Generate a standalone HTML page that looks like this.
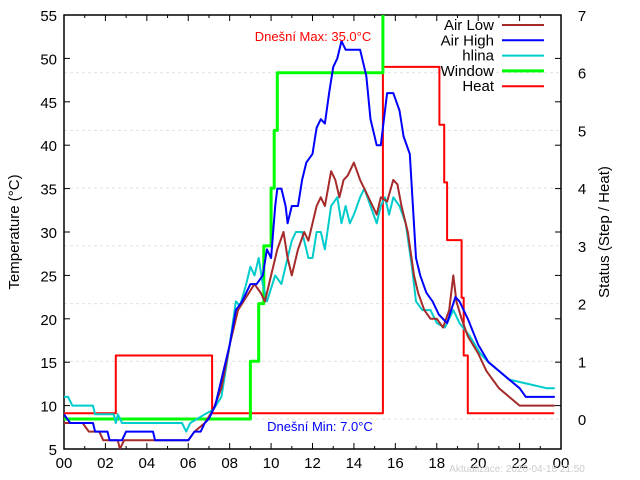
<!DOCTYPE html>
<html><head><meta charset="utf-8"><style>
body{margin:0;background:#fff;}
svg{display:block;font-family:"Liberation Sans",sans-serif;}
</style></head><body>
<svg id="chart" width="640" height="480" viewBox="0 0 640 480" xmlns="http://www.w3.org/2000/svg"></svg>
<script>
const hoursTicks=["00","02","04","06","08","10","12","14","16","18","20","22","00"];
const tempTicks=[5,10,15,20,25,30,35,40,45,50,55];
const statusTicks=[0,1,2,3,4,5,6,7];
const airLowH=[0,0.9,1.2,1.7,1.9,2.6,2.7,2.9,6.0,6.3,6.8,7.2,7.6,8.0,8.4,8.8,9.2,9.5,9.7,10.0,10.3,10.6,10.8,11.0,11.3,11.6,11.8,12.0,12.2,12.4,12.6,12.9,13.1,13.3,13.5,13.7,14.0,14.3,14.5,14.9,15.1,15.3,15.6,15.9,16.1,16.3,16.6,16.9,17.1,17.4,17.7,18.0,18.3,18.6,18.8,18.95,19.2,19.5,20.0,20.4,21.0,21.5,22.0,22.4,23.7];
const airLowT=[8,8,7,7,6,6,5,6,6,7,8,9.5,12,17,21,22.5,24,23,22,25,28,30,27,25,28,30,29,31,33,34,33,37,36,34,36,36.5,38,36,35,33,32,34,33.5,36,35.5,33,30,25,23,21,20,20,19,21,25,22,20,18,16,14,12,11,10,10,10];
const airHighH=[0,0.3,1.4,1.5,2.1,2.2,2.8,3.0,4.3,4.4,6.0,6.3,6.6,6.8,7.0,7.3,7.6,8.0,8.3,8.6,9.0,9.3,9.6,9.8,10.0,10.2,10.3,10.5,10.7,10.8,11.0,11.3,11.5,11.7,12.0,12.2,12.4,12.6,12.8,13.0,13.2,13.4,13.6,13.8,14.3,14.6,14.8,15.1,15.3,15.6,15.9,16.2,16.4,16.7,17.0,17.2,17.5,17.8,18.1,18.5,18.7,18.9,19.1,19.5,20.0,20.5,21.0,21.5,22.0,22.3,23.7];
const airHighT=[9,8,8,7,7,6,6,7,7,6,6,7,7,8,8.5,10,13,17,21,22,24,24,25,28,27,33,35,35,33,31,33,33,36,38,39,42,43,42.5,46,49,50,52,51,51,51,48,43,40,40,46,46,44,41,39,27,25,23,22,20.5,19.5,21,22.5,22,20,17,15,14,13,12,11,11];
const soilH=[0,0.2,0.4,1.4,1.5,2.4,2.5,2.6,2.8,5.7,5.9,6.1,6.8,7.2,7.6,8.0,8.3,8.5,8.8,9.0,9.2,9.4,9.6,9.8,10.2,10.5,10.8,11.0,11.2,11.5,11.8,12.0,12.2,12.4,12.6,12.9,13.2,13.4,13.6,13.8,14.0,14.3,14.5,14.8,15.1,15.3,15.5,15.7,15.9,16.2,16.5,16.8,17.0,17.3,17.7,18.0,18.4,18.8,19.1,19.6,20.1,20.5,21.0,21.5,22.4,23.3,23.7];
const soilT=[11,11,10,10,9,9,8,9,8,8,7,8,9,9.5,11,17,22,21.5,24,26,25,27,24,22,25,24,27,29,30,30,27,27,30,30,28,33,34,31,33,31,32,34,35,33,31,33,34,32,34,33,31,26,22,21,21,19.5,19,21,19.5,18,16,15,14,13,12.5,12,12];
const windowH=[0,9.0,9.4,9.65,10.0,10.15,10.3,15.4,15.4];
const windowS=[0,1,2,3,4,5,6,6,8];
const heatH=[0,2.5,7.15,15.4,18.13,18.36,18.5,19.2,19.3,19.5,23.67];
const heatS=[0.1,1.1,0.1,6.1,5.1,4.1,3.1,2.1,1.1,0.1,0.1];

const NS="http://www.w3.org/2000/svg";
const svg=document.getElementById('chart');
const L=64,R=561,T=15,B=449;
const xS=h=>L+(R-L)*h/24;
const yT=t=>B-(B-T)*(t-5)/50;
const yS=s=>419-(419-15)*s/7;
function el(tag,attrs,parent){const e=document.createElementNS(NS,tag);for(const k in attrs)e.setAttribute(k,attrs[k]);(parent||svg).appendChild(e);return e;}
function txt(s,attrs){const e=el('text',attrs);e.textContent=s;return e;}
const defs=el('defs',{});const cp=el('clipPath',{id:'clip'},defs);el('rect',{x:L,y:T,width:R-L,height:B-T},cp);
statusTicks.forEach(s=>{if(s<7){const g=el('line',{x1:L,x2:R,y1:yS(s),y2:yS(s),stroke:'#e0e0e0','stroke-width':1,'stroke-dasharray':'3,3'});

}});
const box=el('rect',{x:L,y:T,width:R-L,height:B-T,fill:'none',stroke:'#000','stroke-width':1.5});


for(let h=0;h<=24;h++){const len=h%2?3:6;el('line',{x1:xS(h),x2:xS(h),y1:B,y2:B-len,stroke:'#000'});el('line',{x1:xS(h),x2:xS(h),y1:T,y2:T+len,stroke:'#000'});}
hoursTicks.forEach((s,i)=>{const t=txt(s,{x:xS(i*2),y:B+19,'text-anchor':'middle','font-size':15,fill:'#000'});

});
tempTicks.forEach(v=>{el('line',{x1:L,x2:L+6,y1:yT(v),y2:yT(v),stroke:'#000'});el('line',{x1:R,x2:R-6,y1:yT(v),y2:yT(v),stroke:'#000'});
const t=txt(String(v),{x:L-7,y:yT(v)+6,'text-anchor':'end','font-size':15,fill:'#000'});

});
statusTicks.forEach(v=>{const t=txt(String(v),{x:582,y:yS(v)+6,'text-anchor':'middle','font-size':15,fill:'#000'});

});
let t1=txt('Temperature (°C)',{transform:'translate(19,232) rotate(-90)','text-anchor':'middle','font-size':15});


let t2=txt('Status (Step / Heat)',{transform:'translate(609,232) rotate(-90)','text-anchor':'middle','font-size':15});


function linePts(H,V,ys){return H.map((h,i)=>xS(h).toFixed(1)+','+ys(V[i]).toFixed(1)).join(' ');}
function stepPts(H,V,ys){let p=[];for(let i=0;i<H.length;i++){if(i>0)p.push(xS(H[i]).toFixed(1)+','+ys(V[i-1]).toFixed(1));p.push(xS(H[i]).toFixed(1)+','+ys(V[i]).toFixed(1));}return p.join(' ');}
const g=el('g',{'clip-path':'url(#clip)',fill:'none'});
function series(pts,color,w,name){const p=el('polyline',{points:pts,stroke:color,'stroke-width':w,fill:'none','stroke-linejoin':'round'},g);

}
series(stepPts(heatH,heatS,yS),'#ff0000',2,'heat-line');
series(stepPts(windowH,windowS,yS),'#00ff00',3,'window-line');
series(linePts(soilH,soilT,yT),'#00cccc',2,'hlina-line');
series(linePts(airLowH,airLowT,yT),'#a52a2a',2,'air-low-line');
series(linePts(airHighH,airHighT,yT),'#0000ff',2,'air-high-line');
let a1=txt('Dnešní Max: 35.0°C',{x:313,y:41,'text-anchor':'middle','font-size':13,fill:'#ff0000'});


let a2=txt('Dnešní Min: 7.0°C',{x:320,y:431,'text-anchor':'middle','font-size':13,fill:'#0000ff'});


let a3=txt('Aktualizace: 2026-04-18 21:50',{x:517,y:472,'text-anchor':'middle','font-size':10,fill:'#cccccc'});


const legNames=['Air Low','Air High','hlina','Window','Heat'];
const legColors=['#a52a2a','#0000ff','#00cccc','#00ff00','#ff0000'];
const legW=[2,2,2,3,2];
legNames.forEach((n,i)=>{const y=25+i*15.3;
const t=txt(n,{x:494,y:y+5,'text-anchor':'end','font-size':15,fill:'#000'});


const l=el('line',{x1:502,x2:544,y1:y,y2:y,stroke:legColors[i],'stroke-width':legW[i]});

});
</script>
</body></html>
